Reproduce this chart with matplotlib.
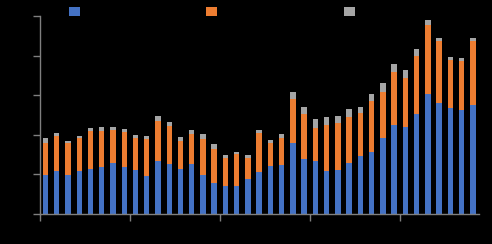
import matplotlib
matplotlib.use("Agg")
import matplotlib.pyplot as plt
import numpy as np
from matplotlib.patches import Patch

years = [str(y) for y in range(1980, 2019)]
series_names = ["Series 1", "Series 2", "Series 3"]
blue = [49.2, 54.7, 49.2, 54.7, 56.8, 59.3, 64.4, 59.3, 55.9, 48.4,
        66.9, 63.1, 56.8, 63.1, 49.2, 39.1, 35.4, 35.4, 44.2, 53.0,
        60.6, 61.9, 89.6, 69.4, 66.9, 54.3, 55.6, 64.4, 73.2, 78.7,
        96.3, 112.4, 110.2, 126.6, 151.5, 140.5, 134.2, 131.7, 137.6]
orange = [40.8, 43.4, 40.4, 41.3, 48.0, 45.8, 41.7, 44.2, 40.4, 46.0,
          50.9, 48.4, 35.7, 38.3, 45.8, 43.3, 35.7, 40.8, 26.5, 49.2,
          29.4, 34.5, 55.6, 56.8, 41.7, 58.5, 59.3, 58.5, 54.7, 64.4,
          58.1, 67.3, 61.5, 73.2, 87.1, 77.9, 60.6, 61.5, 80.8]
gray = [5.9, 4.2, 2.5, 2.5, 3.8, 4.7, 3.8, 3.8, 3.8, 4.2,
        6.3, 4.7, 4.7, 4.7, 6.3, 6.3, 3.4, 2.1, 3.4, 3.8,
        3.4, 4.7, 8.8, 8.8, 11.4, 10.1, 8.8, 10.1, 7.2, 8.5,
        11.0, 9.7, 10.1, 8.5, 6.3, 3.8, 3.4, 3.8, 3.8]
yticks = [0, 50, 100, 150, 200, 250]

colors = ["#4472C4", "#ED7D31", "#A5A5A5"]
axis_col = "#7F7F7F"

fig = plt.figure(figsize=(4.92, 2.44), dpi=100, facecolor="black")
ax = fig.add_axes([39.9/492, 30/244, (479-39.9)/492, (214-16)/244])
ax.set_facecolor("black")

x = np.arange(len(years))
b = np.array(blue); o = np.array(orange); g = np.array(gray)
w = 0.48
ax.bar(x, b, w, color=colors[0], label=series_names[0])
ax.bar(x, o, w, bottom=b, color=colors[1], label=series_names[1])
ax.bar(x, g, w, bottom=b + o, color=colors[2], label=series_names[2])

ax.set_xlim(-0.5, len(years) - 0.5 + 0.05)
ax.set_ylim(0, 250)
ax.set_yticks(yticks)
ax.set_yticklabels([str(v) for v in yticks], color="black", fontsize=7)
bounds = np.arange(0, len(years), 8) - 0.5
ax.set_xticks(bounds)
ax.set_xticklabels([years[int(i + 0.5)] for i in bounds], color="black", fontsize=7)
for s in ["top", "right"]:
    ax.spines[s].set_visible(False)
for s in ["left", "bottom"]:
    ax.spines[s].set_color(axis_col)
    ax.spines[s].set_linewidth(1.0)
ax.tick_params(axis="both", colors=axis_col, length=5, width=1.0, labelcolor="black")

xs = [69/492, 206/492, 344/492]
for i in range(3):
    h = Patch(facecolor=colors[i], edgecolor="none")
    fig.legend(handles=[h], labels=[series_names[i]], loc="upper left",
               bbox_to_anchor=(xs[i], 1 - 6.5/244), frameon=False, borderpad=0,
               borderaxespad=0, handlelength=1.0, handleheight=1.0,
               handletextpad=0.5, fontsize=7.6, labelcolor="black")

fig.savefig("out.png", dpi=100, facecolor="black")
